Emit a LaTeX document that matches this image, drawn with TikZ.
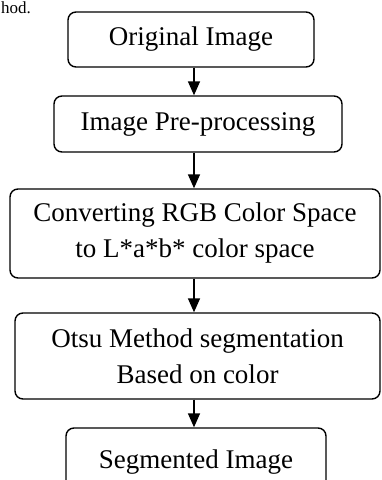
\documentclass[tikz,border=0pt]{standalone}
\usepackage{fontspec}
\setmainfont{Liberation Serif}
\usetikzlibrary{arrows.meta}
\begin{document}
\begin{tikzpicture}[x=1pt, y=-1pt,
  stepbox/.style={draw, line width=1.4pt, rounded corners=8pt, align=center,
    inner sep=0pt, font=\fontsize{27}{36}\selectfont},
  flow/.style={-{Triangle[width=12pt,length=14pt]}, line width=1.6pt}]
  \useasboundingbox (0,0) rectangle (381,480);
  % what is left of the line above the chart
  \node[anchor=base west, inner sep=0pt, font=\fontsize{17}{20}\selectfont] (cap) at (1,13) {hod.};

  \node[stepbox, minimum width=246pt, minimum height=55pt] (orig) at (191,39.5) {Original Image};
  \node[stepbox, minimum width=288pt, minimum height=56pt] (pre) at (198,124) {Image Pre-processing};
  \node[stepbox, minimum width=370pt, minimum height=89pt] (conv) at (195,233.5)
    {Converting RGB Color Space\\to L*a*b* color space};
  \node[stepbox, minimum width=365pt, minimum height=86pt] (otsu) at (197.5,356)
    {Otsu Method segmentation\\Based on color};
  \node[stepbox, minimum width=260pt, minimum height=68pt] (seg) at (196,462) {Segmented Image};

  % arrows all sit on one vertical line
  \coordinate (axis) at (194,0);
  \foreach \a/\b in {orig/pre, pre/conv, conv/otsu, otsu/seg}
    \draw[flow] (\a.south -| axis) -- (\b.north -| axis);
\end{tikzpicture}
\end{document}
